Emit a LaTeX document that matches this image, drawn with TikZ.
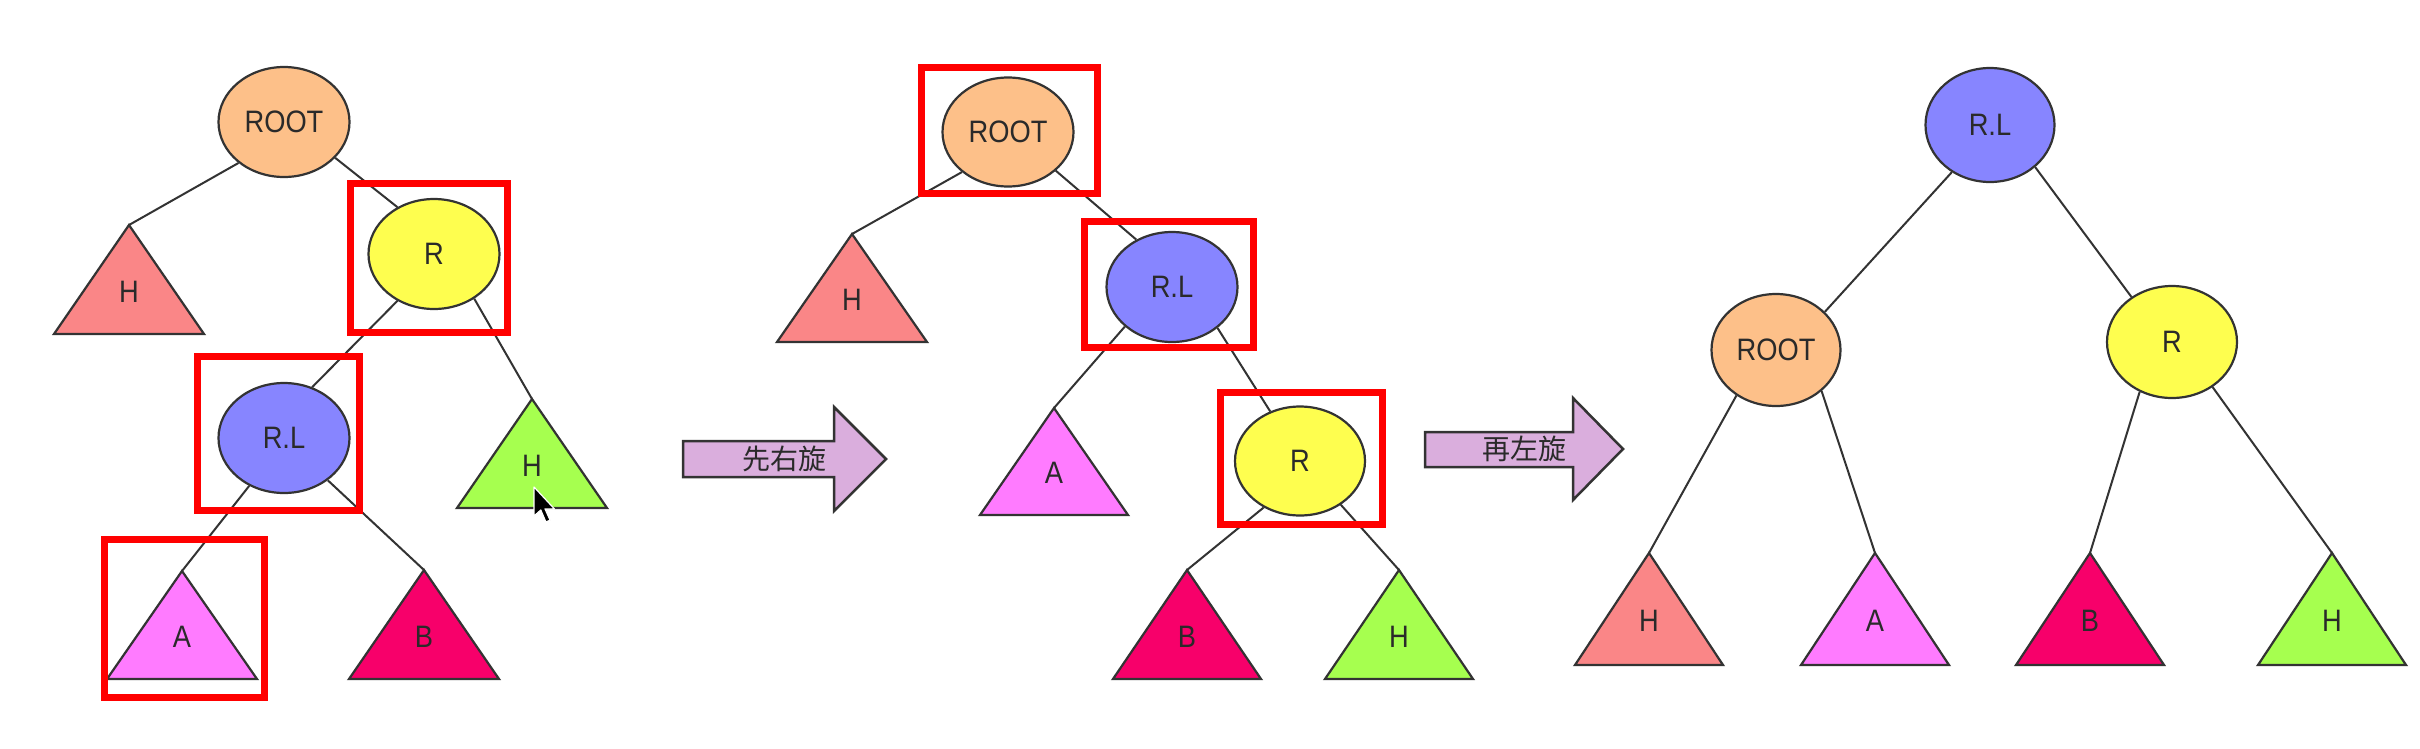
\documentclass[tikz,border=0pt]{standalone}
\usepackage{fontspec}
\setmainfont{Liberation Sans}[FakeStretch=0.88]
\newfontfamily\cjk{Noto Sans CJK SC}
\usetikzlibrary{shapes.geometric}
\definecolor{linec}{HTML}{333333}
\definecolor{textc}{HTML}{2A2A2A}
\definecolor{rootc}{HTML}{FDC089}
\definecolor{rc}{HTML}{FEFE4F}
\definecolor{rlc}{HTML}{8785FF}
\definecolor{hredc}{HTML}{FA8687}
\definecolor{hgreenc}{HTML}{A6FF4F}
\definecolor{ac}{HTML}{FF7BFF}
\definecolor{bc}{HTML}{F7006A}
\definecolor{arrowc}{HTML}{DAAEDD}
\newcommand\trinode[7]{%
  \coordinate (#1) at (#2,#3);
  \draw[tribox, fill=#4] (#1) -- ++(-#6,#7) -- ++(2*#6,0) -- cycle;
  \node[tlabel] (#1-l) at (#2,{#3+0.61*#7}) {#5};
}
\tikzset{
  bnode/.style={ellipse, draw=linec, line width=2.2pt, inner sep=0pt,
    minimum width=131pt, minimum height=110pt,
    font=\fontsize{31}{31}\selectfont, text=textc},
  edge/.style={draw=linec, line width=2pt},
  tribox/.style={draw=linec, line width=2.2pt, line join=miter},
  tlabel/.style={inner sep=0pt, font=\fontsize{31}{31}\selectfont, text=textc},
  redbox/.style={draw=red, line width=7pt},
  bigarrow/.style={draw=linec, line width=2.5pt, fill=arrowc, line join=miter},
  alabel/.style={inner sep=0pt, font=\cjk\fontsize{28}{28}\selectfont, text=textc},
}
\begin{document}
\begin{tikzpicture}[x=1pt, y=-1pt]
\useasboundingbox (0,0) rectangle (2420,748);
\fill[white] (0,0) rectangle (2420,748);

% ---------- left tree ----------
\node[bnode, fill=rootc] (l-root) at (284,122) {ROOT};
\node[bnode, fill=rc] (l-r) at (434,254) {R};
\node[bnode, fill=rlc] (l-rl) at (284,438) {R.L};
\trinode{l-h}{129}{225}{hredc}{H}{75}{109}
\trinode{l-hg}{532}{399}{hgreenc}{H}{75}{109}
\trinode{l-a}{182}{571}{ac}{A}{75}{108}
\trinode{l-b}{424}{570}{bc}{B}{75}{109}
\draw[edge] (l-root.222) -- (l-h);
\draw[edge] (l-root.325) -- (l-r.128);
\draw[edge] (l-r.232) -- (l-rl.61);
\draw[edge] (l-r.312) -- (l-hg);
\draw[edge] (l-rl.234) -- (l-a);
\draw[edge] (l-rl.316) -- (l-b);
\draw[redbox] (350,183) rectangle (507,332);
\draw[redbox] (197,356) rectangle (359,510);
\draw[redbox] (104,539) rectangle (264,697);
% mouse pointer
\draw[fill=black, draw=white, line width=1.2pt, line join=round]
  (534,487) -- ++(0,29) -- ++(6.8,-6) -- ++(5.1,11.9) -- ++(4.2,-1.7)
  -- ++(-5.1,-11.3) -- ++(9.4,0) -- cycle;

% ---------- arrow 1 ----------
\draw[bigarrow] (683,441) -- (834,441) -- (834,407) -- (886,459)
  -- (834,511) -- (834,477) -- (683,477) -- cycle;
\node[alabel] (arr1) at (784,459) {先右旋};

% ---------- middle tree ----------
\node[bnode, fill=rootc, minimum height=109pt] (m-root) at (1008,132) {ROOT};
\node[bnode, fill=rlc] (m-rl) at (1172,287) {R.L};
\node[bnode, fill=rc, minimum width=130pt, minimum height=109pt] (m-r) at (1300,461) {R};
\trinode{m-h}{852}{234}{hredc}{H}{75}{108}
\trinode{m-a}{1054}{408}{ac}{A}{74}{107}
\trinode{m-b}{1187}{570}{bc}{B}{74}{109}
\trinode{m-hg}{1399}{570}{hgreenc}{H}{74}{109}
\draw[edge] (m-root.221) -- (m-h);
\draw[edge] (m-root.321) -- (m-rl.127);
\draw[edge] (m-rl.220) -- (m-a);
\draw[edge] (m-rl.318) -- (m-r.121);
\draw[edge] (m-r.232) -- (m-b);
\draw[edge] (m-r.313) -- (m-hg);
\draw[redbox] (921,67) rectangle (1097,193);
\draw[redbox] (1084,221) rectangle (1253,347);
\draw[redbox] (1220,392) rectangle (1382,524);

% ---------- arrow 2 ----------
\draw[bigarrow] (1425,432) -- (1573,432) -- (1573,398) -- (1623,449)
  -- (1573,500) -- (1573,467) -- (1425,467) -- cycle;
\node[alabel] (arr2) at (1524,449) {再左旋};

% ---------- right tree ----------
\node[bnode, fill=rlc, minimum width=129pt, minimum height=114pt] (r-rl) at (1990,125) {R.L};
\node[bnode, fill=rootc, minimum width=129pt, minimum height=112pt] (r-root) at (1776,350) {ROOT};
\node[bnode, fill=rc, minimum width=130pt, minimum height=112pt] (r-r) at (2172,342) {R};
\trinode{r-h}{1649}{553}{hredc}{H}{74}{112}
\trinode{r-a}{1875}{553}{ac}{A}{74}{112}
\trinode{r-b}{2090}{553}{bc}{B}{74}{112}
\trinode{r-hg}{2332}{553}{hgreenc}{H}{74}{112}
\draw[edge] (r-rl.231) -- (r-root.38);
\draw[edge] (r-rl.317) -- (r-r.132);
\draw[edge] (r-root.229) -- (r-h);
\draw[edge] (r-root.318) -- (r-a);
\draw[edge] (r-r.237) -- (r-b);
\draw[edge] (r-r.312) -- (r-hg);
\end{tikzpicture}
\end{document}
